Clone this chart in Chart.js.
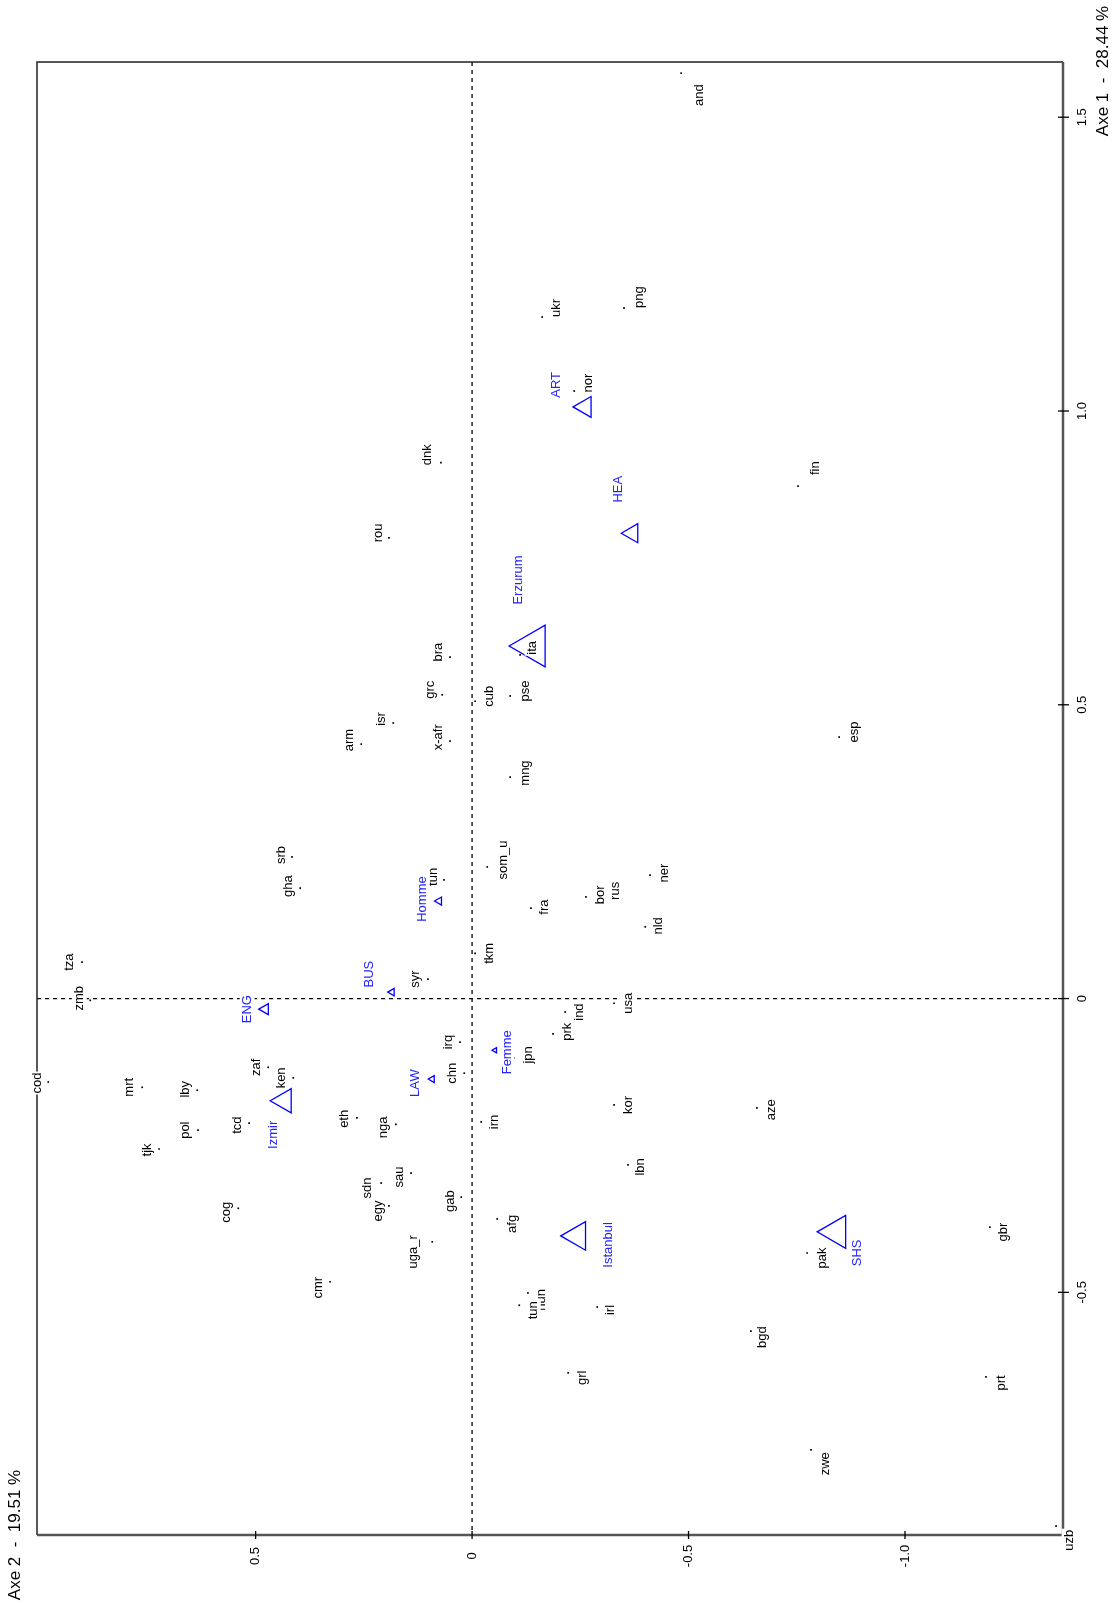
<!DOCTYPE html>
<html>
<head>
<meta charset="utf-8">
<script src="https://cdn.jsdelivr.net/npm/chart.js@4.4.1/dist/chart.umd.min.js"></script>
<style>
  html, body { margin: 0; padding: 0; background: #fff; }
</style>
</head>
<body>
<canvas id="ca-chart" width="1118" height="1605"></canvas>
<script>
// active rows (countries) : Axe 2 goes on x, Axe 1 on y (the plot is turned a quarter)
let countries = ["and","ukr","png","nor","fin","dnk","rou","ita","bra","grc","cub","pse","isr","arm","x-afr","mng","esp",
  "srb","gha","tun","som_u","fra","bor","rus","ner","nld","tza","tkm","syr","zmb","usa","ind","prk","irq","jpn",
  "zaf","ken","cod","mrt","lby","chn","tcd","pol","eth","nga","irn","kor","aze","tjk","lbn","sdn","sau","egy",
  "cog","gab","afg","uga_r","pak","gbr","cmr","hun","tun","irl","bgd","grl","prt","zwe","uzb"];
let axe2 = [-0.483,-0.162,-0.351,-0.236,-0.753,0.072,0.192,-0.111,0.051,0.069,-0.007,-0.088,0.182,0.256,0.051,-0.088,-0.848,
  0.416,0.397,0.065,-0.035,-0.136,-0.263,-0.300,-0.411,-0.400,0.901,-0.007,0.102,0.882,-0.328,-0.215,-0.187,0.028,-0.097,
  0.471,0.413,0.979,0.762,0.635,0.018,0.515,0.633,0.266,0.176,-0.021,-0.328,-0.658,0.723,-0.360,0.210,0.141,0.192,
  0.540,0.025,-0.058,0.092,-0.774,-1.196,0.328,-0.129,-0.109,-0.289,-0.644,-0.222,-1.187,-0.783,-1.349];
let axe1 = [1.575,1.160,1.175,1.034,0.872,0.912,0.784,0.585,0.581,0.517,0.506,0.515,0.469,0.433,0.438,0.377,0.445,
  0.241,0.188,0.202,0.224,0.154,0.173,0.168,0.210,0.122,0.062,0.077,0.033,-0.003,-0.008,-0.023,-0.060,-0.074,-0.101,
  -0.117,-0.135,-0.142,-0.151,-0.156,-0.127,-0.212,-0.224,-0.203,-0.214,-0.210,-0.181,-0.186,-0.256,-0.283,-0.314,-0.297,-0.353,
  -0.357,-0.338,-0.375,-0.414,-0.433,-0.389,-0.482,-0.501,-0.522,-0.525,-0.566,-0.637,-0.644,-0.768,-0.898];

// supplementary categories (blue triangles)
let suppNames = ["ART","HEA","Erzurum","Homme","BUS","ENG","Femme","LAW","Izmir","Istanbul","SHS"];
let suppAxe2 = [-0.261,-0.370,-0.141,0.076,0.185,0.478,-0.053,0.092,0.434,-0.243,-0.841];
let suppAxe1 = [1.007,0.792,0.600,0.166,0.011,-0.018,-0.088,-0.137,-0.174,-0.404,-0.397];

let axe2Ticks = ["0.5","0","-0.5","-1.0"];
let axe1Ticks = ["1.5","1.0","0.5","0","-0.5"];
let axe2Title = "Axe 2  -  19.51 %";
let axe1Title = "Axe 1  -  28.44 %";

// style only: triangle radius and label nudges (px)
let suppRadius = [12,11,24,4.6,4.3,6.4,3,4,14,16.5,19];
let countryNudge = [[18,22],[14,-9],[15,-11],[14,-8],[17,-18],[-13,-8],[-11,-5],[12,-7],[-12,-5],[-12,-5],[14,-5],[15,-5],[-12,-4],[-12,-4],[-12,-4],[15,-4],[15,-5],
  [-11,-2],[-12,-2],[-11,-3],[16,-7],[13,-1],[14,-2],[13,-9],[14,-2],[13,-1],[-13,0],[14,0],[-12,0],[-11,-2],[14,0],[14,0],[14,-2],[-12,0],[14,-3],
  [-12,0],[-12,0],[-11,1],[-13,0],[-12,-1],[-12,0],[-12,2],[-13,0],[-12,1],[-12,3],[13,0],[14,0],[14,2],[-12,1],[12,2],[-14,5],[-12,4],[-11,5],
  [-12,4],[-11,4],[15,5],[-19,10],[15,5],[14,5],[-12,6],[14,7],[14,5],[13,3],[12,6],[14,5],[15,6],[14,14],[13,14]];
let suppNudge = [[-29,-22],[-14,-44],[-15,-66],[-17,-2],[-23,-18],[-18,0],[12,2],[-17,4],[-11,34],[31,9],[21,21]];

let labelFont = "13px 'Liberation Sans', Arial, sans-serif";

// rotated text, optionally on a white box that hides what is under it
function vtext(ctx, txt, x, y, font, color, boxed) {
  ctx.save();
  ctx.translate(x, y);
  ctx.rotate(-Math.PI / 2);
  ctx.font = font;
  ctx.textAlign = "center";
  ctx.textBaseline = "middle";
  if (boxed) {
    let w = ctx.measureText(txt).width;
    ctx.fillStyle = "#fff";
    ctx.fillRect(-w / 2 - 1, -7.5, w + 2, 15);
  }
  ctx.fillStyle = color;
  ctx.fillText(txt, 0, 0);
  ctx.restore();
}

let caPlugin = {
  id: "caPlugin",
  beforeDatasetsDraw(chart) {
    let ctx = chart.ctx, a = chart.chartArea;
    let x0 = chart.scales.x.getPixelForValue(0);
    let y0 = chart.scales.y.getPixelForValue(0);
    ctx.save();
    ctx.strokeStyle = "#000";
    ctx.lineWidth = 1.3;
    ctx.setLineDash([4, 4]);
    ctx.beginPath();
    ctx.moveTo(x0, a.top); ctx.lineTo(x0, a.bottom);
    ctx.moveTo(a.left, y0); ctx.lineTo(a.right, y0);
    ctx.stroke();
    ctx.restore();
  },
  afterDatasetsDraw(chart) {
    let ctx = chart.ctx, a = chart.chartArea;
    let sx = chart.scales.x, sy = chart.scales.y;

    // frame
    ctx.save();
    ctx.strokeStyle = "#222";
    ctx.lineWidth = 1.5;
    ctx.beginPath();
    ctx.moveTo(a.left, a.bottom); ctx.lineTo(a.left, a.top); ctx.lineTo(a.right, a.top);
    ctx.stroke();
    ctx.strokeStyle = "#555";
    ctx.lineWidth = 2.5;
    ctx.beginPath();
    ctx.moveTo(a.left, a.bottom); ctx.lineTo(a.right, a.bottom);
    ctx.moveTo(a.right, a.top); ctx.lineTo(a.right, a.bottom);
    ctx.stroke();

    // ticks
    ctx.strokeStyle = "#000";
    ctx.lineWidth = 1.3;
    axe2Ticks.forEach(t => {
      let px = sx.getPixelForValue(Number(t));
      ctx.beginPath(); ctx.moveTo(px, a.bottom - 4); ctx.lineTo(px, a.bottom + 4); ctx.stroke();
      vtext(ctx, t, px, a.bottom + 21, labelFont, "#000", false);
    });
    axe1Ticks.forEach(t => {
      let py = sy.getPixelForValue(Number(t));
      ctx.beginPath(); ctx.moveTo(a.right - 5, py); ctx.lineTo(a.right + 6, py); ctx.stroke();
      vtext(ctx, t, a.right + 19, py, labelFont, "#000", false);
    });

    // axis titles
    vtext(ctx, axe2Title, 15, a.bottom, "17px 'Liberation Sans', Arial, sans-serif", "#000", false);
    vtext(ctx, axe1Title, 1103, 71, "17px 'Liberation Sans', Arial, sans-serif", "#000", false);

    // point labels, boxed
    countries.forEach((c, i) => {
      let px = sx.getPixelForValue(axe2[i]), py = sy.getPixelForValue(axe1[i]);
      vtext(ctx, c, px + countryNudge[i][0], py + countryNudge[i][1], labelFont, "#000", true);
    });
    suppNames.forEach((c, i) => {
      let px = sx.getPixelForValue(suppAxe2[i]), py = sy.getPixelForValue(suppAxe1[i]);
      vtext(ctx, c, px + suppNudge[i][0], py + suppNudge[i][1], labelFont, "#2424ff", true);
    });
    ctx.restore();
  }
};

new Chart(document.getElementById("ca-chart"), {
  type: "scatter",
  data: {
    datasets: [{
      label: "pays",
      data: countries.map((c, i) => ({ x: axe2[i], y: axe1[i] })),
      pointStyle: "rect",
      pointRadius: 1.2,
      backgroundColor: "#000",
      borderWidth: 0
    }, {
      label: "supp",
      data: suppNames.map((c, i) => ({ x: suppAxe2[i], y: suppAxe1[i] })),
      pointStyle: "triangle",
      rotation: -90,
      pointRadius: suppRadius,
      borderColor: "#0000ff",
      backgroundColor: "rgba(0,0,0,0)",
      borderWidth: 1.3
    }]
  },
  options: {
    responsive: false,
    animation: false,
    layout: { padding: { left: 37, top: 62, right: 55, bottom: 70 } },
    scales: {
      x: { type: "linear", display: false, min: -1.365, max: 1.005, reverse: true },
      y: { type: "linear", display: false, min: -0.913, max: 1.594 }
    },
    plugins: { legend: { display: false }, tooltip: { enabled: false } }
  },
  plugins: [caPlugin]
});
</script>
</body>
</html>
